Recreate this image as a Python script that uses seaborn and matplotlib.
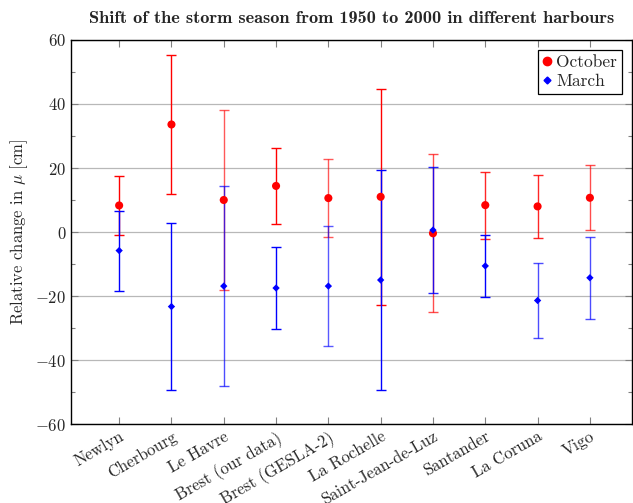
import numpy as np
import pandas as pd
import matplotlib
matplotlib.use("Agg")
import matplotlib.pyplot as plt
import seaborn as sns
from matplotlib.ticker import MultipleLocator
from matplotlib.lines import Line2D

harbours = ["Newlyn", "Cherbourg", "Le Havre", "Brest (our data)", "Brest (GESLA-2)",
            "La Rochelle", "Saint-Jean-de-Luz", "Santander", "La Coruna", "Vigo"]
october_mean = [8.3, 33.6, 10.0, 14.4, 10.6, 11.0, -0.4, 8.4, 8.0, 10.7]
october_err = [9.3, 21.8, 28.0, 12.0, 12.3, 33.8, 24.7, 10.5, 9.9, 10.2]
march_mean = [-5.8, -23.3, -16.9, -17.5, -16.9, -15.0, 0.6, -10.6, -21.4, -14.3]
march_err = [12.5, 26.0, 31.3, 12.7, 18.7, 34.3, 19.6, 9.6, 11.7, 12.8]

sns.set_theme(style="ticks")
plt.rcParams["font.family"] = ["cmr10", "DejaVu Serif"]
plt.rcParams["mathtext.fontset"] = "cm"
plt.rcParams["axes.formatter.use_mathtext"] = True
plt.rcParams["axes.unicode_minus"] = True

df = pd.DataFrame({
    "harbour": harbours * 2,
    "x": list(range(len(harbours))) * 2,
    "mean": october_mean + march_mean,
    "err": october_err + march_err,
    "month": ["October"] * len(harbours) + ["March"] * len(harbours),
})

fig = plt.figure(figsize=(6.33, 5.03), dpi=100)
ax = fig.add_axes([0.1122, 0.157, 0.8858, 0.7635])

red_alpha = [1, 1, 0.65, 1, 0.65, 1, 0.7, 0.85, 0.85, 0.7]
blue_alpha = [1, 1, 0.7, 1, 0.65, 1, 0.85, 1, 0.7, 0.7]
oct_df = df[df.month == "October"]
mar_df = df[df.month == "March"]
for (_, r), a in zip(oct_df.iterrows(), red_alpha):
    ax.errorbar(r["x"], r["mean"], yerr=r["err"], fmt="none", ecolor="red",
                elinewidth=1.0, capsize=3.5, capthick=1.0, alpha=a, zorder=2)
for (_, r), a in zip(mar_df.iterrows(), blue_alpha):
    ax.errorbar(r["x"], r["mean"], yerr=r["err"], fmt="none", ecolor="blue",
                elinewidth=1.0, capsize=3.5, capthick=1.0, alpha=a, zorder=2)

sns.scatterplot(data=df, x="x", y="mean", hue="month", style="month",
                palette={"October": "red", "March": "blue"},
                markers={"October": "o", "March": "D"},
                size="month", sizes={"October": 34, "March": 14},
                edgecolor="none", ax=ax, zorder=3, legend=False)

ax.set_xlim(-0.92, 9.8)
ax.set_ylim(-60, 60)
ax.set_xticks(range(len(harbours)))
ax.set_xticklabels(harbours, rotation=30, ha="right", rotation_mode="anchor", fontsize=12)
ax.yaxis.set_major_locator(MultipleLocator(20))
ax.yaxis.set_minor_locator(MultipleLocator(10))
ax.tick_params(axis="y", labelsize=12)
ax.tick_params(which="both", direction="in", top=True, right=True, color="#808080")
ax.tick_params(which="major", length=5, width=0.8)
ax.tick_params(which="minor", length=3, width=0.8)
ax.tick_params(axis="x", which="minor", top=False, bottom=False)
ax.grid(axis="y", color="#b8b8b8", linewidth=0.9)
ax.set_axisbelow(True)
for s in ax.spines.values():
    s.set_color("black")
    s.set_linewidth(1.0)

ax.set_xlabel("")
ax.set_ylabel(r"Relative change in $\mu$ [cm]", fontsize=12)
ax.set_title("Shift of the storm season from 1950 to 2000 in different harbours",
             fontsize=13.2, family=["cmb10", "DejaVu Serif"], pad=12)

handles = [Line2D([], [], marker="o", color="red", linestyle="none", markersize=6),
           Line2D([], [], marker="D", color="blue", linestyle="none", markersize=3.5)]
leg = ax.legend(handles, ["October", "March"], loc="upper right", fontsize=12.5,
                frameon=True, fancybox=False, edgecolor="black", framealpha=1,
                handlelength=0.5, handletextpad=0.25, borderpad=0.3, labelspacing=0.2,
                borderaxespad=0.55)
leg.get_frame().set_linewidth(0.9)

fig.savefig("out.png", dpi=100)
